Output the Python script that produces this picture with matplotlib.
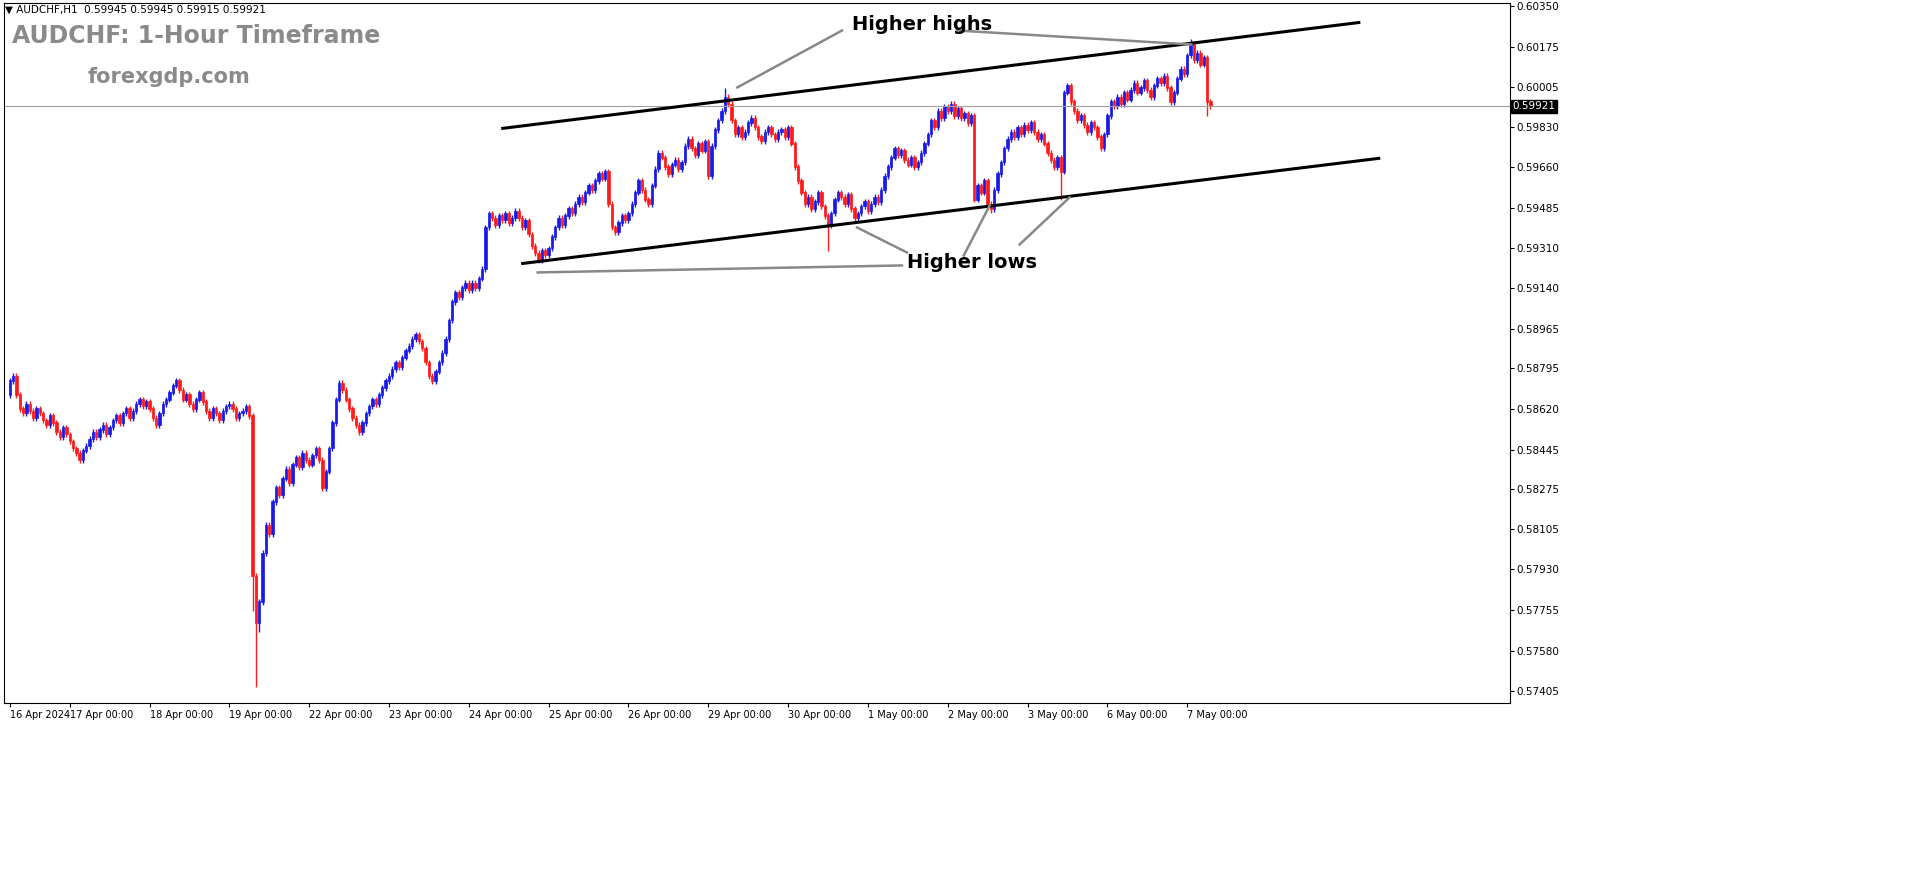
import matplotlib
matplotlib.use("Agg")
import matplotlib.pyplot as plt
import numpy as np

day_labels = ["16 Apr 2024","17 Apr 00:00","18 Apr 00:00","19 Apr 00:00","22 Apr 00:00","23 Apr 00:00",
              "24 Apr 00:00","25 Apr 00:00","26 Apr 00:00","29 Apr 00:00","30 Apr 00:00","1 May 00:00",
              "2 May 00:00","3 May 00:00","6 May 00:00","7 May 00:00"]
d16 = [0.5874,0.5876,0.5868,0.5862,0.5860,0.5864,0.5861,0.5858,0.5862,0.5860,0.5857,0.5855,0.5859,0.5856,0.5852,0.5850,0.5854,0.5851]
d17 = [0.5848,0.5845,0.5843,0.5840,0.5844,0.5846,0.5849,0.5852,0.5850,0.5853,0.5855,0.5851,0.5854,0.5857,0.5859,0.5856,0.5860,0.5862,0.5858,0.5861,0.5864,0.5866,0.5863,0.5865]
d18 = [0.5862,0.5858,0.5855,0.5860,0.5864,0.5866,0.5869,0.5872,0.5874,0.5870,0.5866,0.5868,0.5864,0.5862,0.5866,0.5869,0.5865,0.5861,0.5858,0.5862,0.5860,0.5857,0.5861,0.5863]
d19 = [0.5864,0.5862,0.5858,0.5860,0.5861,0.5863,0.5859,0.5790,0.5770,0.5779,0.5800,0.5812,0.5808,0.5822,0.5828,0.5825,0.5832,0.5836,0.5830,0.5838,0.5841,0.5837,0.5843,0.5840]
d22 = [0.5838,0.5842,0.5845,0.5840,0.5828,0.5835,0.5845,0.5856,0.5866,0.5873,0.5870,0.5866,0.5862,0.5858,0.5855,0.5852,0.5856,0.5860,0.5863,0.5866,0.5864,0.5868,0.5871,0.5874]
d23 = [0.5876,0.5879,0.5882,0.5880,0.5884,0.5887,0.5889,0.5892,0.5894,0.5891,0.5888,0.5882,0.5876,0.5874,0.5878,0.5882,0.5886,0.5892,0.5900,0.5908,0.5912,0.5910,0.5914,0.5916]
d24 = [0.5913,0.5916,0.5914,0.5918,0.5922,0.5940,0.5946,0.5944,0.5941,0.5945,0.5943,0.5946,0.5942,0.5944,0.5947,0.5944,0.5940,0.5943,0.5937,0.5932,0.5929,0.5926,0.5930,0.5928]
d25 = [0.5931,0.5936,0.5940,0.5944,0.5941,0.5945,0.5948,0.5946,0.5950,0.5953,0.5951,0.5955,0.5958,0.5956,0.5960,0.5963,0.5961,0.5964,0.5950,0.5940,0.5938,0.5942,0.5945,0.5943]
d26 = [0.5946,0.5950,0.5955,0.5960,0.5956,0.5952,0.5950,0.5958,0.5965,0.5972,0.5970,0.5966,0.5963,0.5967,0.5969,0.5965,0.5968,0.5975,0.5978,0.5974,0.5971,0.5976,0.5973,0.5977]
d29 = [0.5962,0.5975,0.5982,0.5986,0.5990,0.5996,0.5993,0.5986,0.5980,0.5983,0.5979,0.5981,0.5985,0.5987,0.5983,0.5979,0.5977,0.5981,0.5983,0.5980,0.5978,0.5981,0.5982,0.5979]
d30 = [0.5983,0.5976,0.5966,0.5960,0.5955,0.5950,0.5953,0.5948,0.5951,0.5955,0.5949,0.5945,0.5941,0.5946,0.5952,0.5955,0.5953,0.5950,0.5954,0.5948,0.5944,0.5946,0.5949,0.5951]
d01 = [0.5947,0.5950,0.5953,0.5951,0.5956,0.5962,0.5966,0.5970,0.5974,0.5971,0.5973,0.5969,0.5967,0.5970,0.5966,0.5968,0.5972,0.5976,0.5980,0.5986,0.5983,0.5990,0.5987,0.5992]
d02 = [0.5990,0.5993,0.5988,0.5991,0.5987,0.5989,0.5985,0.5988,0.5952,0.5958,0.5955,0.5960,0.5950,0.5948,0.5956,0.5963,0.5968,0.5974,0.5978,0.5981,0.5979,0.5983,0.5980,0.5984]
d03 = [0.5982,0.5985,0.5981,0.5978,0.5980,0.5976,0.5972,0.5969,0.5966,0.5970,0.5964,0.5998,0.6001,0.5994,0.5990,0.5986,0.5988,0.5984,0.5981,0.5985,0.5983,0.5979,0.5974,0.5980]
d06 = [0.5988,0.5994,0.5992,0.5996,0.5993,0.5998,0.5995,0.5999,0.6002,0.5998,0.6000,0.6003,0.5999,0.5996,0.6001,0.6004,0.6002,0.6005,0.6000,0.5994,0.5998,0.6004,0.6008,0.6006]
d07 = [0.6014,0.6019,0.6012,0.6015,0.6010,0.6013,0.5994,0.59921]
closes = np.array(d16+d17+d18+d19+d22+d23+d24+d25+d26+d29+d30+d01+d02+d03+d06+d07)
low_override = {66+7: 0.5775, 66+8: 0.57425, 66+9: 0.5766, 18+9*24+12: 0.5930, 18+11*24+13: 0.5946,
                18+12*24+10: 0.5952, 18+14*24+6: 0.5988}
high_override = {18+8*24+5: 0.6000, 18+14*24+1: 0.6021}
yticks = [0.57405,0.57580,0.57755,0.57930,0.58105,0.58275,0.58445,0.58620,0.58795,0.58965,
          0.59140,0.59310,0.59485,0.59660,0.59830,0.60005,0.60175,0.60350]
last_price = 0.59921

opens = np.concatenate([[0.5868], closes[:-1]])
highs = np.maximum(opens, closes) + 0.00012
lows = np.minimum(opens, closes) - 0.00012
for k, v in low_override.items(): lows[k] = v
for k, v in high_override.items(): highs[k] = v
idx = np.arange(len(closes))

fig = plt.figure(figsize=(19.16, 8.84), dpi=100)
ax = fig.add_axes([0.002, 1-703/884, 0.786, 700/884])
bull = closes >= opens
cols = np.where(bull, "#1a1ae6", "#ff1a1a")
ax.vlines(idx, lows, highs, colors=cols, lw=1)
ax.bar(idx, np.abs(closes-opens)+0.00002, bottom=np.minimum(opens, closes), width=0.7, color=cols, edgecolor=cols, lw=0.5)

ax.set_xlim(-1.8, 451)
ax.set_ylim(0.57355, 0.60365)
ax.yaxis.tick_right()
ax.set_yticks(yticks)
ax.set_yticklabels([f"{t:.5f}" for t in yticks], fontsize=7.5)
day_pos = [0] + [18 + 24*i for i in range(0, 15)]
ax.set_xticks(day_pos)
ax.set_xticklabels(day_labels, fontsize=7, ha="left")
ax.tick_params(length=3, width=0.8, pad=2)
for s in ax.spines.values():
    s.set_linewidth(0.8)

ax.axhline(last_price, color="#a0a0a0", lw=0.8)
ax.text(1.002, last_price, f"{last_price:.5f}", transform=ax.get_yaxis_transform(), fontsize=7.5,
        color="white", va="center", ha="left", bbox=dict(boxstyle="square,pad=0.15", fc="black", ec="black"))

ax.plot([148.2, 405.6], [0.59826, 0.60281], color="black", lw=2.2)
ax.plot([154.2, 411.6], [0.59245, 0.59697], color="black", lw=2.2)

def px(x, y):
    return ((x-66)/3.333+18, 0.60350-(y-4)/23260)
g = "#888888"
for a, b in [((735,85),(840,28)), ((955,28),(1190,42)), ((535,270),(900,263)),
             ((855,225),(905,250)), ((962,253),(988,203)), ((1018,242),(1068,195))]:
    p1, p2 = px(*a), px(*b)
    ax.plot([p1[0], p2[0]], [p1[1], p2[1]], color=g, lw=1.8)
hx, hy = px(850, 22)
ax.text(hx, hy, "Higher highs", fontsize=14, fontweight="bold", family="DejaVu Sans", va="center")
lx, ly = px(905, 260)
ax.text(lx, ly, "Higher lows", fontsize=14, fontweight="bold", family="DejaVu Sans", va="center")

fig.text(12/1916, 1-36/884, "AUDCHF: 1-Hour Timeframe", fontsize=17, fontweight="bold", color="#8a8a8a", va="center")
fig.text(88/1916, 1-77/884, "forexgdp.com", fontsize=15, fontweight="bold", color="#8a8a8a", va="center")
fig.text(5/1916, 1-10/884, "▼ AUDCHF,H1  0.59945 0.59945 0.59915 0.59921", fontsize=7.5, va="center")

fig.savefig("out.png", dpi=100)
